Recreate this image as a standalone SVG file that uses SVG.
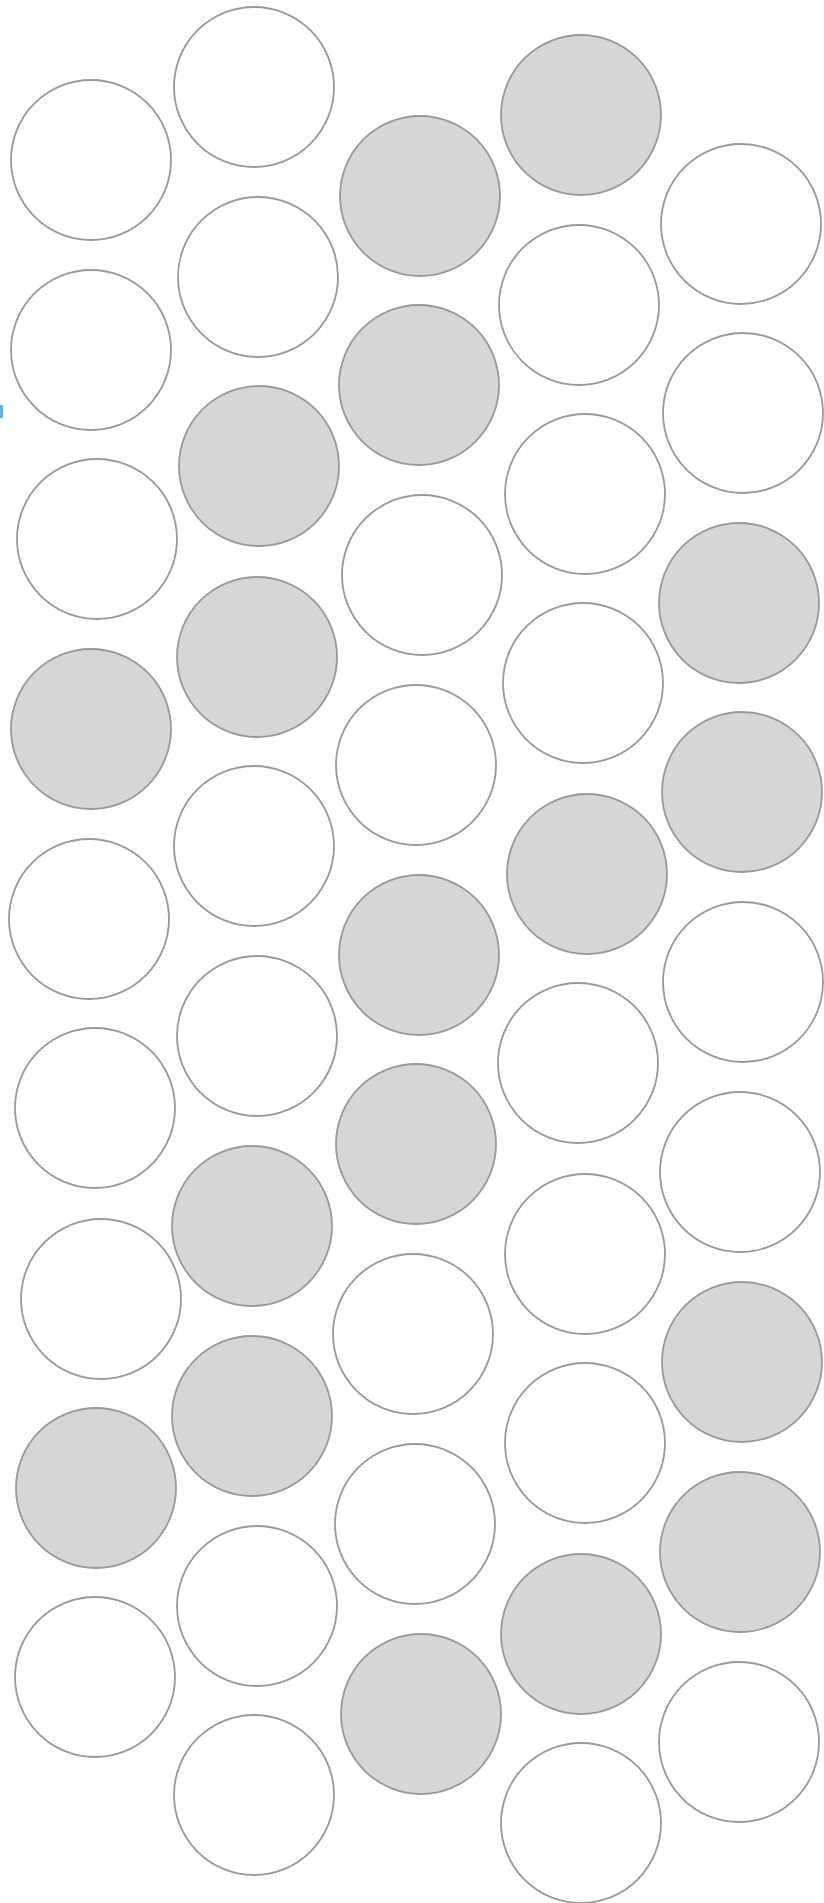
<svg xmlns="http://www.w3.org/2000/svg" width="824" height="1903" viewBox="0 0 824 1903">
<style>
.c{fill:#ffffff;stroke:#999999;stroke-width:1.8}
.g{fill:#d6d6d6;stroke:#999999;stroke-width:1.8}
</style>
<rect x="0" y="0" width="824" height="1903" fill="#ffffff"/>
<rect x="0" y="405" width="3" height="13" fill="#5ab4f0"/>
<g id="col1">
<circle class="c" cx="91" cy="160" r="80"/>
<circle class="c" cx="91" cy="350" r="80"/>
<circle class="c" cx="97" cy="539" r="80"/>
<circle class="g" cx="91" cy="729" r="80"/>
<circle class="c" cx="89" cy="919" r="80"/>
<circle class="c" cx="95" cy="1108" r="80"/>
<circle class="c" cx="101" cy="1299" r="80"/>
<circle class="g" cx="96" cy="1488" r="80"/>
<circle class="c" cx="95" cy="1677" r="80"/>
</g>
<g id="col2">
<circle class="c" cx="254" cy="87" r="80"/>
<circle class="c" cx="258" cy="277" r="80"/>
<circle class="g" cx="259" cy="466" r="80"/>
<circle class="g" cx="257" cy="657" r="80"/>
<circle class="c" cx="254" cy="846" r="80"/>
<circle class="c" cx="257" cy="1036" r="80"/>
<circle class="g" cx="252" cy="1226" r="80"/>
<circle class="g" cx="252" cy="1416" r="80"/>
<circle class="c" cx="257" cy="1606" r="80"/>
<circle class="c" cx="254" cy="1795" r="80"/>
</g>
<g id="col3">
<circle class="g" cx="420" cy="196" r="80"/>
<circle class="g" cx="419" cy="385" r="80"/>
<circle class="c" cx="422" cy="575" r="80"/>
<circle class="c" cx="416" cy="765" r="80"/>
<circle class="g" cx="419" cy="955" r="80"/>
<circle class="g" cx="416" cy="1144" r="80"/>
<circle class="c" cx="413" cy="1334" r="80"/>
<circle class="c" cx="415" cy="1524" r="80"/>
<circle class="g" cx="421" cy="1714" r="80"/>
</g>
<g id="col4">
<circle class="g" cx="581" cy="115" r="80"/>
<circle class="c" cx="579" cy="305" r="80"/>
<circle class="c" cx="585" cy="494" r="80"/>
<circle class="c" cx="583" cy="683" r="80"/>
<circle class="g" cx="587" cy="874" r="80"/>
<circle class="c" cx="578" cy="1063" r="80"/>
<circle class="c" cx="585" cy="1254" r="80"/>
<circle class="c" cx="585" cy="1443" r="80"/>
<circle class="g" cx="581" cy="1634" r="80"/>
<circle class="c" cx="581" cy="1823" r="80"/>
</g>
<g id="col5">
<circle class="c" cx="741" cy="224" r="80"/>
<circle class="c" cx="743" cy="413" r="80"/>
<circle class="g" cx="739" cy="603" r="80"/>
<circle class="g" cx="742" cy="792" r="80"/>
<circle class="c" cx="743" cy="982" r="80"/>
<circle class="c" cx="740" cy="1172" r="80"/>
<circle class="g" cx="742" cy="1362" r="80"/>
<circle class="g" cx="740" cy="1552" r="80"/>
<circle class="c" cx="739" cy="1742" r="80"/>
</g>
</svg>
